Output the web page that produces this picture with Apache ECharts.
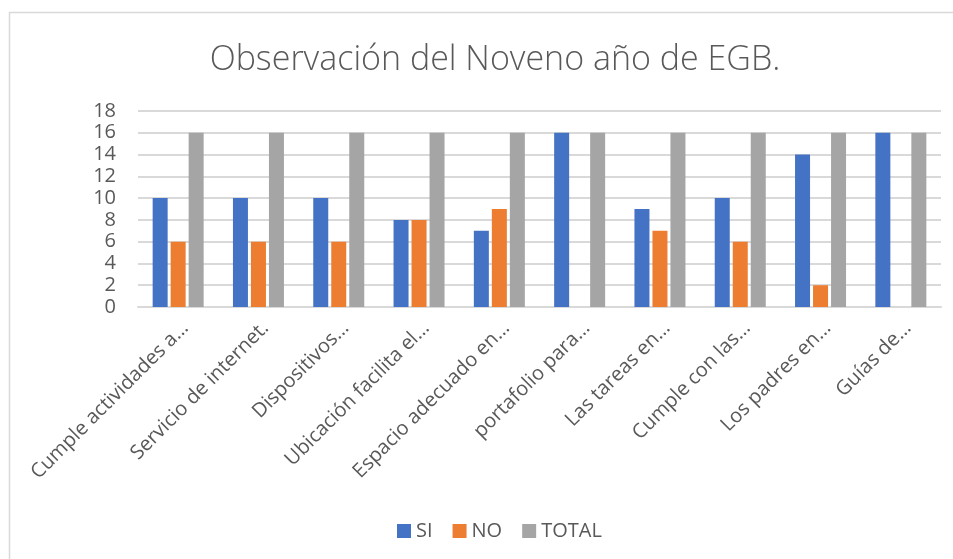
<!DOCTYPE html>
<html>
<head>
<meta charset="utf-8">
<script src="https://cdn.jsdelivr.net/npm/echarts@6/dist/echarts.min.js"></script>
<style>
html,body{margin:0;padding:0;background:#fff;}
#c{width:953px;height:559px;}
</style>
</head>
<body>
<div id="c"></div>
<script>
const categories = ["Cumple actividades a…","Servicio de internet.","Dispositivos…","Ubicación facilita el…","Espacio adecuado en…","portafolio para…","Las tareas en…","Cumple con las…","Los padres en…","Guías de…"];
const siValues = [10,10,10,8,7,16,9,10,14,16];
const noValues = [6,6,6,8,9,0,7,6,2,0];
const totalValues = [16,16,16,16,16,16,16,16,16,16];
const seriesNames = ["SI","NO","TOTAL"];
const titleText = "Observación del Noveno año de EGB.";

const chart = echarts.init(document.getElementById('c'), null, {renderer:'canvas'});
const font = "'Open Sans', 'Liberation Sans', sans-serif";
function bar(name, data, color){
  return {name, type:'bar', data: data.map(v => v === 0 ? null : v), barWidth:15, barGap:'20%',
    itemStyle:{color}, emphasis:{disabled:true}};
}
chart.setOption({
  animation:false,
  graphic:[{type:'rect', shape:{x:9.5,y:12.5,width:1000,height:600}, style:{fill:'none', stroke:'#d9d9d9', lineWidth:1.5}, silent:true}],
  title:{text:titleText, left:490, top:38, textAlign:'center',
    textStyle:{fontFamily:font, fontWeight:300, fontSize:34, color:'#595959'}},
  legend:{data:seriesNames, bottom:13, left:392, itemWidth:14, itemHeight:14, itemGap:20,
    icon:'rect', textStyle:{fontFamily:font, fontSize:20, color:'#595959'}},
  grid:{left:138, right:12, top:111, bottom:252, containLabel:false},
  xAxis:{type:'category', data:categories,
    axisLine:{lineStyle:{color:'#d9d9d9', width:2}}, axisTick:{show:false},
    axisLabel:{rotate:45, interval:0, margin:11, verticalAlign:'top', fontFamily:font, fontSize:20, color:'#595959'}},
  yAxis:{type:'value', min:0, max:18, interval:2,
    axisLine:{show:false}, axisTick:{show:false},
    splitLine:{lineStyle:{color:'#d9d9d9', width:2}},
    axisLabel:{margin:22, fontFamily:font, fontSize:20, color:'#595959'}},
  series:[bar(seriesNames[0], siValues, '#4472C4'), bar(seriesNames[1], noValues, '#ED7D31'), bar(seriesNames[2], totalValues, '#A5A5A5')]
});
</script>
</body>
</html>
